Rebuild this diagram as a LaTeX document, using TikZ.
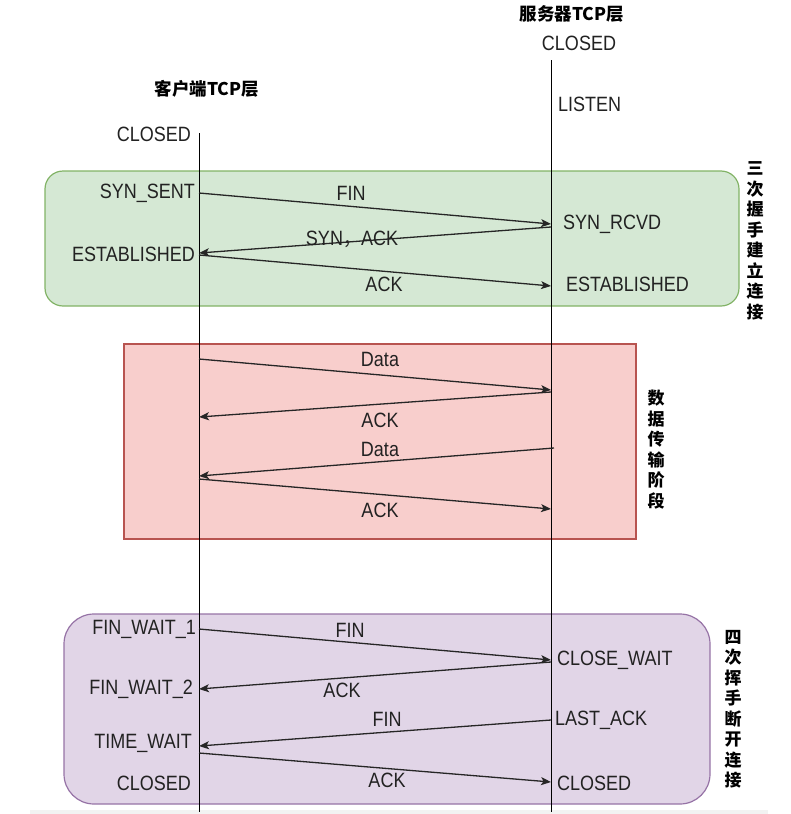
\documentclass[tikz,border=0pt]{standalone}
\usepackage{fontspec}
\setmainfont{Liberation Sans}
\newfontfamily\cjk{Noto Sans CJK SC}
\usetikzlibrary{arrows.meta}
\definecolor{shakefill}{HTML}{D5E8D4}
\definecolor{shakeline}{HTML}{82B366}
\definecolor{datafill}{HTML}{F8CECC}
\definecolor{dataline}{HTML}{B85450}
\definecolor{wavefill}{HTML}{E1D5E7}
\definecolor{waveline}{HTML}{9673A6}
\definecolor{labelgray}{HTML}{222222}
\definecolor{bandgray}{HTML}{F2F2F2}
\tikzset{
  phase/.style={
    rectangle,
    line width=1.2pt,
    minimum width=0pt,
    inner sep=0pt
  },
  state/.style={
    inner sep=0pt,
    text=labelgray,
    font=\fontsize{18}{20}\selectfont,
    yscale=1.15,
    transform shape
  },
  title/.style={
    inner sep=0pt,
    font=\cjk\bfseries\fontsize{17.5}{20}\selectfont
  },
  vlabel/.style={
    inner sep=0pt,
    align=center,
    font=\cjk\bfseries\fontsize{17}{20.5}\selectfont
  },
  lifeline/.style={draw=black, line width=1pt},
  msg/.style={-{Stealth[length=10pt,width=8pt,inset=2.5pt]}, line width=1.3pt, draw=black!85}
}

\begin{document}
\begin{tikzpicture}[x=1pt, y=-1pt]
  \useasboundingbox (0,0) rectangle (791,814);
  \fill[bandgray] (30,810) rectangle (768,814);

  \node[phase, draw=shakeline, fill=shakefill, rounded corners=18pt,
        minimum width=694pt, minimum height=135pt] (shake) at (392,238.5) {};
  \node[phase, draw=dataline, fill=datafill,
        minimum width=512pt, minimum height=195pt] (transfer) at (380,441.5) {};
  \node[phase, draw=waveline, fill=wavefill, rounded corners=30pt,
        minimum width=646pt, minimum height=190pt] (wave) at (387,709) {};

  \node[title] (clienttitle) at (207,89) {客户端TCP层};
  \node[title] (servertitle) at (572,14) {服务器TCP层};

  \coordinate (ctop) at (199,133);
  \coordinate (cbot) at (199,812);
  \coordinate (stop) at (551,60);
  \coordinate (sbot) at (551,812);
  \draw[lifeline] (ctop) -- (cbot);
  \draw[lifeline] (stop) -- (sbot);

  \node[state] (sclosed) at (579,43) {CLOSED};
  \node[state, anchor=west] (listen) at (558,104) {LISTEN};
  \node[state, anchor=east] (cclosed) at (191,134) {CLOSED};

  % three-way handshake
  \coordinate (c1) at (199,193);  \coordinate (s1) at (551,224);
  \coordinate (s2) at (551,227);  \coordinate (c2) at (199,253);
  \coordinate (c3) at (199,255);  \coordinate (s3) at (551,286);
  \draw[msg] (c1) -- (s1);
  \draw[msg] (s2) -- (c2);
  \draw[msg] (c3) -- (s3);
  \node[state] (fin1) at (351,193) {FIN};
  \node[state] (synack) at (352,239) {SYN{\cjk ，}ACK};
  \node[state] (ack1) at (384,284) {ACK};
  \node[state, anchor=east] (synsent) at (195,193) {SYN\_SENT};
  \node[state, anchor=west] (synrcvd) at (563,224) {SYN\_RCVD};
  \node[state, anchor=east] (cest) at (195,254) {ESTABLISHED};
  \node[state, anchor=west] (sest) at (566,284) {ESTABLISHED};
  \node[vlabel] (shaketext) at (755,241) {三\\次\\握\\手\\建\\立\\连\\接};

  % data transfer
  \coordinate (c4) at (199,359);  \coordinate (s4) at (551,390);
  \coordinate (s5) at (551,392);  \coordinate (c5) at (199,417);
  \coordinate (s6) at (554,448);  \coordinate (c6) at (199,476);
  \coordinate (c7) at (199,479);  \coordinate (s7) at (551,509);
  \draw[msg] (c4) -- (s4);
  \draw[msg] (s5) -- (c5);
  \draw[msg] (s6) -- (c6);
  \draw[msg] (c7) -- (s7);
  \node[state] (data1) at (380,359) {Data};
  \node[state] (ack2) at (380,420) {ACK};
  \node[state] (data2) at (380,449) {Data};
  \node[state] (ack3) at (380,510) {ACK};
  \node[vlabel] (transfertext) at (656,449.5) {数\\据\\传\\输\\阶\\段};

  % four-way wave
  \coordinate (c8) at (199,629);  \coordinate (s8) at (551,660);
  \coordinate (s9) at (551,662);  \coordinate (c9) at (199,689);
  \coordinate (s10) at (551,720); \coordinate (c10) at (199,746);
  \coordinate (c11) at (199,753); \coordinate (s11) at (551,782);
  \draw[msg] (c8) -- (s8);
  \draw[msg] (s9) -- (c9);
  \draw[msg] (s10) -- (c10);
  \draw[msg] (c11) -- (s11);
  \node[state] (fin2) at (350,630) {FIN};
  \node[state] (ack4) at (342,690) {ACK};
  \node[state] (fin3) at (387,719) {FIN};
  \node[state] (ack5) at (387,780) {ACK};
  \node[state, anchor=east] (finwait1) at (196,629) {FIN\_WAIT\_1};
  \node[state, anchor=west] (closewait) at (557,660) {CLOSE\_WAIT};
  \node[state, anchor=east] (finwait2) at (193,689) {FIN\_WAIT\_2};
  \node[state, anchor=west] (lastack) at (555,720) {LAST\_ACK};
  \node[state, anchor=east] (timewait) at (192,743) {TIME\_WAIT};
  \node[state, anchor=east] (cclosed2) at (191,783) {CLOSED};
  \node[state, anchor=west] (sclosed2) at (557,783) {CLOSED};
  \node[vlabel] (wavetext) at (733,709) {四\\次\\挥\\手\\断\\开\\连\\接};
\end{tikzpicture}
\end{document}
